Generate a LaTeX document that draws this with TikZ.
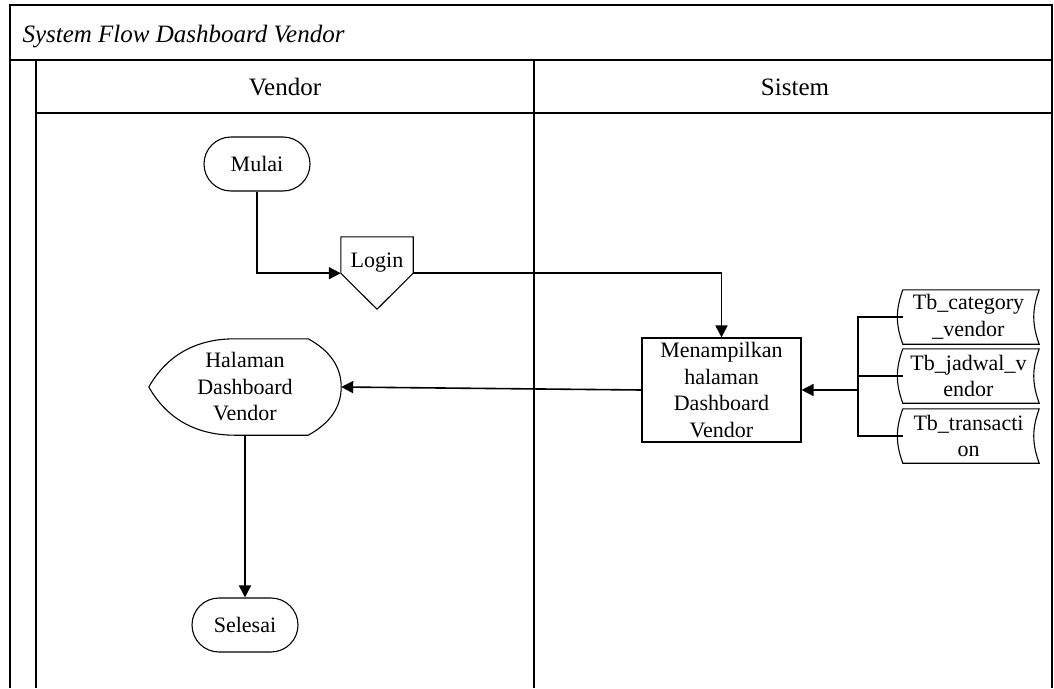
\documentclass[tikz,border=0pt]{standalone}
\usepackage{fontspec}
\setmainfont{Liberation Serif}
\usetikzlibrary{shapes,arrows.meta}

\tikzset{
  frame/.style={line width=1.2pt},
  shp/.style={draw, line width=1.1pt},
  arr/.style={line width=1.6pt, -{Triangle[length=12pt,width=12pt]}},
  txt/.style={font=\fontsize{22}{26.5}\selectfont, align=center, inner sep=0pt},
  term/.style={txt, shp, rounded corners=27pt, minimum width=106pt, minimum height=54pt},
  store/.style={txt, minimum width=141pt, minimum height=54pt},
}

\begin{document}
\begin{tikzpicture}[x=1pt, y=-1pt]
\useasboundingbox (0,0) rectangle (1054,688);
% swimlanes
\draw [frame] (10,688) -- (10,5) -- (1052,5) -- (1052,688);
\draw [frame] (10,60) -- (1052,60);
\draw [frame] (36,113) -- (1052,113);
\draw [frame] (36,60) -- (36,688);
\draw [frame] (534,60) -- (534,688);
\node[anchor=base west, font=\fontsize{25}{30}\selectfont\itshape] (title) at (19,42) {System Flow Dashboard Vendor};
\node[font=\fontsize{25}{30}\selectfont] (vendor) at (285,87) {Vendor};
\node[font=\fontsize{25}{30}\selectfont] (sistem) at (795,87) {Sistem};

% vendor lane
\node[term] (mulai) at (257,164) {Mulai};
\node[txt, minimum width=72pt, minimum height=36pt] (login) at (377,255) {\raisebox{-8pt}[\height][\depth]{Login}};
\draw [shp] (login.north west) -- (login.north east) -- (login.south east) -- ([yshift=-36pt]login.south) -- (login.south west) -- cycle;
\node[txt, minimum width=192pt, minimum height=96pt] (halaman) at (245,387) {Halaman\\Dashboard\\Vendor};
\draw [shp] (halaman.west) .. controls +(20,-35) and +(-35,0) .. ([xshift=-10pt]halaman.north)
  -- ([xshift=-33pt]halaman.north east) .. controls +(22,12) and +(0,-20) .. (halaman.east)
  .. controls +(0,20) and +(22,-12) .. ([xshift=-33pt]halaman.south east)
  -- ([xshift=-10pt]halaman.south) .. controls +(-35,0) and +(20,35) .. (halaman.west);
\node[term] (selesai) at (245,625) {Selesai};

% sistem lane
\node[txt, shp, minimum width=159pt, minimum height=104pt] (menu) at (721.5,390) {Menampilkan\\halaman\\Dashboard\\Vendor};
\node[store] (t1) at (968.5,317) {Tb\_category\\\_vendor};
\node[store] (t2) at (968.5,376) {Tb\_jadwal\_v\\endor};
\node[store] (t3) at (968.5,436) {Tb\_transacti\\on};
\foreach \t in {t1,t2,t3} {
  \draw [shp] ([xshift=5pt]\t.north west) -- (\t.north east) to[bend right=20] (\t.south east)
    -- ([xshift=5pt]\t.south west) to[bend left=20] cycle;
}
\coordinate (bus) at (858,390);

% flow
\draw [arr] (mulai.south) |- (login.south west);
\draw [arr] (login.south east) -| (menu.north);
\foreach \t in {t1,t2,t3} {
  \draw [line width=1.6pt] ([xshift=5pt]\t.west) -| (bus);
}
\draw [arr] (bus) -- (menu.east);
\draw [arr] (menu.west) -- (halaman.east);
\draw [arr] (halaman.south) -- (selesai.north);
\end{tikzpicture}
\end{document}
